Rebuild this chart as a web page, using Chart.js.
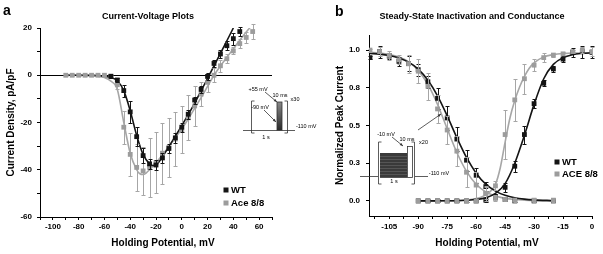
<!DOCTYPE html>
<html lang="en">
<head>
<meta charset="UTF-8">
<title>Current-Voltage Plots / Steady-State Inactivation and Conductance</title>
<style>
  body { margin: 0; background: #fff; }
  #wrap { position: relative; width: 603px; height: 254px; }
  canvas { position: absolute; top: 0; }
  #ivChart { left: 0; }
  #ssChart { left: 300px; }
</style>
</head>
<body>
<div id="wrap">
  <canvas id="ivChart" width="330" height="254"></canvas>
  <canvas id="ssChart" width="303" height="254"></canvas>
</div>

<script src="https://cdn.jsdelivr.net/npm/chart.js"></script>
<script>
// ---------- panel a: current-voltage data ----------
const ivVoltageAce = [-90,-85,-80,-75,-70,-65,-60,-55,-50,-45,-40,-35,-30,-25,-20,-15,-10,-5,0,5,10,15,20,25,30,35,40,45,50,55];
const ivCurrentAce = [0,0,0,0,0,0,0,-0.3,-4,-22,-33.5,-39,-40.5,-39,-37,-33,-30.5,-27,-23,-18,-13,-8,-3,0,4,7,10.3,13.4,16,18.5];
const ivErrorAce   = [0.3,0.3,0.3,0.3,0.3,0.3,0.3,0.5,2,7,9,10,10,12.5,13,13,12.5,11.5,10,9.5,8.5,5,4,3,2.5,2,1.5,2,2.5,3];

const ivVoltageWT = [-55,-50,-45,-40,-35,-30,-25,-20,-15,-10,-5,0,5,10,15,20,25,30,35,40,45];
const ivCurrentWT = [-0.5,-2,-6.5,-15.5,-26,-34,-37.5,-38,-35,-31,-26.5,-22,-16.5,-10.5,-6,-0.5,5,9,12.5,15.5,18.5];
const ivErrorWT   = [0.5,1,2.5,4.5,4,3,2,2,2,2,2,2,2,1.5,1.5,1.5,1.5,1.5,2,2.5,2];

// fitted curves
const ivFitVoltageWT = [-90,-80,-70,-65,-60,-55,-50,-45,-40,-35,-30,-25,-22.5,-20,-15,-10,-5,0,5,10,15,20,25,30,35,40];
const ivFitCurrentWT = [0,0,-0.05,-0.15,-0.4,-0.9,-2.3,-6.5,-15,-25.5,-33.5,-37.5,-38.2,-38,-34.5,-30.2,-25.8,-21.3,-16.7,-11.8,-6.6,-1.3,4,9.3,14.6,20];
const ivFitVoltageAce = [-90,-80,-70,-65,-60,-55,-50,-45,-40,-35,-32.5,-30,-27.5,-25,-20,-15,-10,-5,0,5,10,15,20,25,30,35,40,45,50,53.5];
const ivFitCurrentAce = [0,0,-0.1,-0.4,-1,-2.5,-6,-20,-33,-40,-41.7,-42,-41.3,-40,-37,-33.8,-30.2,-26.5,-22.7,-18.5,-14,-9.5,-4.7,0,3.9,7.6,11.2,14.8,18.3,20.5];

const ivXTicks = [-110,-100,-90,-80,-70,-60,-50,-40,-30,-20,-10,0,10,20,30,40,50,60,70];
const ivYTicks = [-60,-50,-40,-30,-20,-10,0,10,20];

// ---------- panel b: steady-state inactivation / conductance ----------
const ssInactVoltage = [-115,-110,-105,-100,-95,-90,-85,-80,-75,-70,-65,-60,-55,-50,-45,-40,-30,-20];
const ssInactWT      = [0.95,0.99,0.96,0.925,0.91,0.87,0.79,0.68,0.55,0.41,0.27,0.17,0.095,0.03,0.01,0,0,0];
const ssInactWTErr   = [0.01,0.04,0.02,0.03,0.05,0.04,0.04,0.07,0.08,0.08,0.07,0.05,0.03,0.01,0.01,0.01,0.01,0.01];
const ssInactAce     = [1.0,0.99,0.965,0.935,0.91,0.86,0.76,0.61,0.47,0.33,0.19,0.105,0.05,0.02,0.01,0.005,0.005,0.005];
const ssInactAceErr  = [0.01,0.03,0.03,0.03,0.06,0.08,0.09,0.095,0.09,0.1,0.1,0.09,0.05,0.02,0.01,0.01,0.01,0.01];

const ssActVoltage = [-90,-85,-80,-75,-70,-65,-60,-55,-50,-45,-40,-35,-30,-25,-20,-15,-10,-5,0];
const ssActWT      = [0,0,0,0,0,0,0,0.005,0.02,0.09,0.23,0.44,0.645,0.78,0.875,0.94,0.985,0.99,0.985];
const ssActWTErr   = [0.01,0.01,0.01,0.01,0.01,0.01,0.01,0.01,0.01,0.03,0.035,0.06,0.03,0.02,0.02,0.02,0.03,0.04,0.04];
const ssActAce     = [0,0,0,0,0,0,0,0.05,0.1,0.44,0.67,0.81,0.9,0.95,0.967,0.975,0.99,1.0,0.99];
const ssActAceErr  = [0.01,0.01,0.01,0.01,0.01,0.01,0.01,0.04,0.03,0.16,0.14,0.1,0.04,0.03,0.01,0.01,0.01,0.02,0.03];

const ssInactFitVoltage = [-115,-110,-105,-100,-95,-90,-85,-80,-75,-70,-65,-60,-55,-50,-45,-40,-35,-30,-20];
const ssInactFitWT  = [0.978,0.973,0.964,0.948,0.92,0.874,0.8,0.697,0.564,0.42,0.288,0.184,0.111,0.065,0.037,0.021,0.012,0.007,0.002];
const ssInactFitAce = [0.985,0.98,0.971,0.954,0.922,0.865,0.772,0.639,0.478,0.321,0.196,0.111,0.06,0.032,0.017,0.009,0.005,0.002,0];
const ssActFitVoltageWT = [-90,-80,-70,-65,-60,-55,-50,-45,-40,-35,-30,-25,-20,-15,-10,-5,0];
const ssActFitWT = [0,0.0005,0.0015,0.004,0.009,0.021,0.05,0.115,0.25,0.435,0.64,0.81,0.905,0.95,0.97,0.978,0.982];
const ssActFitVoltageAce = [-90,-80,-70,-65,-60,-57.5,-55,-52.5,-50,-47.5,-45,-42.5,-40,-37.5,-35,-32.5,-30,-25,-20,-15,-10,-5,0];
const ssActFitAce = [0,0,0.002,0.006,0.015,0.025,0.04,0.065,0.11,0.22,0.39,0.55,0.665,0.755,0.825,0.88,0.915,0.955,0.97,0.977,0.98,0.98,0.98];

const ssXTicks = [-112.5,-105,-97.5,-90,-82.5,-75,-67.5,-60,-52.5,-45,-37.5,-30,-22.5,-15,-7.5,0];
const ssYTicks = [0,0.25,0.5,0.75,1];
const ssYTickLabels = ['0.0','0.3','0.5','0.8','1.0'];

// ---------- styling ----------
const FONT = '"Liberation Sans", Arial, sans-serif';
const BLACK = '#141414';
const GREY = '#9c9c9c';
const GREY_LINE = '#a6a6a6';

function pts(xs, ys) { return xs.map((x, i) => ({ x: x, y: ys[i] })); }

function markers(label, xs, ys, errs, color, errColor) {
  return {
    label: label, data: pts(xs, ys), errors: errs, errorColor: errColor,
    pointStyle: 'rect', pointRadius: 3.4, pointBorderWidth: 0,
    backgroundColor: color, borderColor: color, showLine: false
  };
}

function curve(xs, ys, color) {
  return {
    data: pts(xs, ys), showLine: true, pointRadius: 0, borderWidth: 1.6,
    borderColor: color, fill: false, cubicInterpolationMode: 'monotone'
  };
}

// vertical error bars with caps, drawn through the chart scales
const errorBars = {
  id: 'errorBars',
  beforeDatasetDraw(chart, args) {
    const ds = chart.data.datasets[args.index];
    if (!ds.errors) return;
    const ctx = chart.ctx, xs = chart.scales.x, ys = chart.scales.y;
    ctx.save();
    ctx.strokeStyle = ds.errorColor;
    ctx.lineWidth = 1;
    ds.data.forEach((p, i) => {
      const e = ds.errors[i];
      const px = Math.round(xs.getPixelForValue(p.x)) + 0.5;
      const top = Math.round(ys.getPixelForValue(p.y + e)) + 0.5;
      const bot = Math.round(ys.getPixelForValue(p.y - e)) + 0.5;
      ctx.beginPath();
      ctx.moveTo(px, top); ctx.lineTo(px, bot);
      ctx.moveTo(px - 2, top); ctx.lineTo(px + 2, top);
      ctx.moveTo(px - 2, bot); ctx.lineTo(px + 2, bot);
      ctx.stroke();
    });
    ctx.restore();
  }
};

function axis(o) {
  return {
    type: 'linear', min: o.min, max: o.max,
    afterBuildTicks: s => { s.ticks = o.ticks.map(v => ({ value: v })); },
    afterFit: s => { if (o.width) s.width = o.width; if (o.height) s.height = o.height; },
    ticks: {
      callback: o.label, color: '#000', padding: o.pad, autoSkip: false, maxRotation: 0, minRotation: 0,
      font: { family: FONT, size: 8, weight: 'bold' }
    },
    grid: {
      drawOnChartArea: !!o.zeroLine,
      color: o.zeroLine ? (c => (c.tick && c.tick.value === 0) ? '#000' : 'rgba(0,0,0,0)') : '#000',
      tickColor: '#000', tickLength: 3, lineWidth: 1
    },
    border: { display: true, color: '#000', width: 1 },
    title: {
      display: !!o.title, text: o.title, color: '#000', padding: 0,
      font: { family: FONT, size: 10, weight: 'bold' }
    }
  };
}

function text(ctx, str, x, y, size, weight, align) {
  ctx.save();
  ctx.font = weight + ' ' + size + 'px ' + FONT;
  ctx.fillStyle = '#000';
  ctx.textAlign = align || 'center';
  ctx.textBaseline = 'middle';
  ctx.fillText(str, x, y);
  ctx.restore();
}

function legend(ctx, x, y, gap, items) {
  items.forEach((it, i) => {
    const cy = y + i * gap;
    ctx.fillStyle = it[1];
    ctx.fillRect(x - 2.5, cy - 2.5, 5, 5);
    text(ctx, it[0], x + 5, cy + 0.5, 9.5, 'bold', 'left');
  });
}

function seg(ctx, x1, y1, x2, y2) {
  ctx.beginPath(); ctx.moveTo(x1, y1); ctx.lineTo(x2, y2); ctx.stroke();
}

function arrow(ctx, x1, y1, x2, y2) {
  seg(ctx, x1, y1, x2, y2);
  const a = Math.atan2(y2 - y1, x2 - x1);
  ctx.beginPath();
  ctx.moveTo(x2, y2);
  ctx.lineTo(x2 - 3.5 * Math.cos(a - 0.4), y2 - 3.5 * Math.sin(a - 0.4));
  ctx.lineTo(x2 - 3.5 * Math.cos(a + 0.4), y2 - 3.5 * Math.sin(a + 0.4));
  ctx.closePath();
  ctx.fill();
}

function bracket(ctx, x, y1, y2, dir) {
  ctx.beginPath();
  ctx.moveTo(x + 3 * dir, y1); ctx.lineTo(x, y1); ctx.lineTo(x, y2); ctx.lineTo(x + 3 * dir, y2);
  ctx.stroke();
}

// ---------- panel a decorations ----------
const ivDecor = {
  id: 'ivDecor',
  afterDraw(chart) {
    const ctx = chart.ctx;
    text(ctx, 'a', 3, 11, 14, 'bold', 'left');
    text(ctx, 'Current-Voltage Plots', 148, 17, 9, 'bold');
    text(ctx, 'Holding Potential, mV', 163, 243, 10, 'bold');
    legend(ctx, 226, 190, 13, [['WT', BLACK], ['Ace 8/8', GREY]]);

    // voltage protocol inset
    ctx.save();
    ctx.strokeStyle = '#333'; ctx.fillStyle = '#333'; ctx.lineWidth = 0.8;
    bracket(ctx, 251.5, 101, 133, 1);
    bracket(ctx, 287.5, 101, 133, -1);
    seg(ctx, 243, 130.5, 277, 130.5);
    seg(ctx, 282, 130.5, 295, 130.5);
    const g = ctx.createLinearGradient(0, 102, 0, 130);
    g.addColorStop(0, '#888'); g.addColorStop(1, '#2a2a2a');
    ctx.fillStyle = g;
    ctx.fillRect(277, 102, 5, 28.5);
    ctx.strokeRect(277, 102, 5, 28.5);
    ctx.fillStyle = '#333';
    arrow(ctx, 265, 92, 277, 102);
    arrow(ctx, 264, 110, 276, 122);
    ctx.restore();
    text(ctx, '+55 mV', 258, 89.5, 5.5, 'normal');
    text(ctx, '-90 mV', 260, 107.5, 5.5, 'normal');
    text(ctx, '10 ms', 280, 95, 5.5, 'normal');
    text(ctx, 'x30', 295, 99, 5.5, 'normal');
    text(ctx, '1 s', 266, 137.5, 5.5, 'normal');
    text(ctx, '-110 mV', 296, 126, 5.5, 'normal', 'left');
  }
};

// ---------- panel b decorations ----------
const ssDecor = {
  id: 'ssDecor',
  afterDraw(chart) {
    const ctx = chart.ctx;
    text(ctx, 'b', 35, 12, 14, 'bold', 'left');
    text(ctx, 'Steady-State Inactivation and Conductance', 172, 17, 9, 'bold');
    text(ctx, 'Holding Potential, mV', 187, 243, 10, 'bold');
    legend(ctx, 257, 162, 12, [['WT', BLACK], ['ACE 8/8', GREY]]);

    // voltage protocol inset
    ctx.save();
    ctx.strokeStyle = '#333'; ctx.fillStyle = '#333'; ctx.lineWidth = 0.8;
    bracket(ctx, 78.5, 142, 184, 1);
    bracket(ctx, 114.5, 142, 184, -1);
    seg(ctx, 60, 176.5, 78, 176.5);
    seg(ctx, 115, 176.5, 128, 176.5);
    ctx.fillStyle = '#3a3a3a';
    ctx.fillRect(80, 153, 27, 25);
    ctx.strokeStyle = '#5c5c5c';
    for (let y = 156; y < 178; y += 3) seg(ctx, 80, y + 0.5, 107, y + 0.5);
    ctx.strokeStyle = '#333';
    ctx.fillStyle = '#fff';
    ctx.fillRect(107, 146, 5, 32);
    ctx.strokeRect(107.5, 146.5, 5, 31);
    ctx.fillStyle = '#333';
    arrow(ctx, 92, 137, 103, 146);
    arrow(ctx, 118, 130, 141, 114);
    ctx.restore();
    text(ctx, '-10 mV', 86, 134, 5.5, 'normal');
    text(ctx, '10 ms', 107, 139.5, 5.5, 'normal');
    text(ctx, 'x20', 123.5, 142.5, 5.5, 'normal');
    text(ctx, '1 s', 94, 181, 5.5, 'normal');
    text(ctx, '-110 mV', 139, 173, 5.5, 'normal');
  }
};

const common = {
  responsive: false, animation: false, devicePixelRatio: 1,
  plugins: { legend: { display: false }, tooltip: { enabled: false } }
};

// ---------- chart a ----------
new Chart(document.getElementById('ivChart'), {
  type: 'scatter',
  data: {
    datasets: [
      markers('WT', ivVoltageWT, ivCurrentWT, ivErrorWT, BLACK, BLACK),
      markers('Ace 8/8', ivVoltageAce, ivCurrentAce, ivErrorAce, GREY, GREY_LINE),
      curve(ivFitVoltageWT, ivFitCurrentWT, BLACK),
      curve(ivFitVoltageAce, ivFitCurrentAce, GREY_LINE)
    ]
  },
  options: Object.assign({}, common, {
    layout: { padding: { left: 5, right: 58, top: 28, bottom: 0 } },
    scales: {
      x: axis({ min: -110, max: 70, ticks: ivXTicks, height: 37, pad: 2,
                label: v => (v % 20 === 0 ? String(v) : '') }),
      y: axis({ min: -60, max: 20, ticks: ivYTicks, width: 35, pad: 5, zeroLine: true,
                title: 'Current Density, pA/pF',
                label: v => (v % 20 === 0 ? String(v) : '') })
    }
  }),
  plugins: [errorBars, ivDecor]
});

// ---------- chart b ----------
new Chart(document.getElementById('ssChart'), {
  type: 'scatter',
  data: {
    datasets: [
      markers('ACE 8/8', ssActVoltage, ssActAce, ssActAceErr, GREY, GREY_LINE),
      markers('ACE 8/8', ssInactVoltage, ssInactAce, ssInactAceErr, GREY, GREY_LINE),
      markers('WT', ssActVoltage, ssActWT, ssActWTErr, BLACK, BLACK),
      markers('WT', ssInactVoltage, ssInactWT, ssInactWTErr, BLACK, BLACK),
      curve(ssInactFitVoltage, ssInactFitWT, BLACK),
      curve(ssActFitVoltageWT, ssActFitWT, BLACK),
      curve(ssInactFitVoltage, ssInactFitAce, GREY_LINE),
      curve(ssActFitVoltageAce, ssActFitAce, GREY_LINE)
    ]
  },
  options: Object.assign({}, common, {
    layout: { padding: { left: 34, right: 11, top: 35, bottom: 0 } },
    scales: {
      x: axis({ min: -115.5, max: 0, ticks: ssXTicks, height: 38, pad: 3,
                label: v => (v % 15 === 0 ? String(v) : '') }),
      y: axis({ min: -0.1, max: 1.1, ticks: ssYTicks, width: 35, pad: 6,
                title: 'Normalized Peak Current',
                label: v => { const i = ssYTicks.indexOf(v); return i >= 0 ? ssYTickLabels[i] : ''; } })
    }
  }),
  plugins: [errorBars, ssDecor]
});
</script>
</body>
</html>
